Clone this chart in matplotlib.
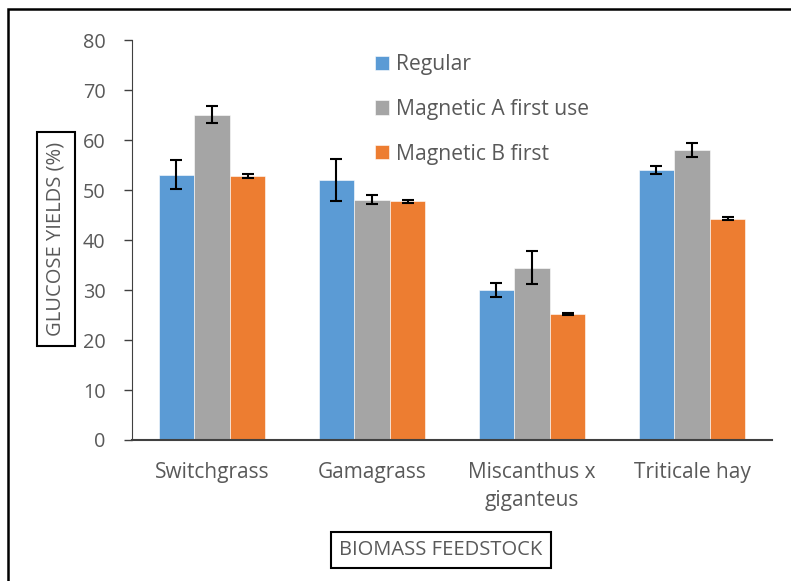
import matplotlib.pyplot as plt
import numpy as np
from matplotlib.patches import Rectangle

# ---------------------------------------------------------------------------
# DATA
# ---------------------------------------------------------------------------
feedstocks = ["Switchgrass", "Gamagrass", "Miscanthus x\ngiganteus", "Triticale hay"]
series = ["Regular", "Magnetic A first use", "Magnetic B first"]
regular = [53.1, 52.0, 30.1, 54.1]
regular_err = [2.9, 4.2, 1.4, 0.8]
magnetic_a = [65.1, 48.1, 34.5, 58.1]
magnetic_a_err = [1.7, 0.9, 3.3, 1.4]
magnetic_b = [52.9, 47.8, 25.2, 44.3]
magnetic_b_err = [0.4, 0.3, 0.15, 0.35]
colors = ["#5B9BD5", "#A5A5A5", "#ED7D31"]
# ---------------------------------------------------------------------------

plt.rcParams['font.family'] = ['Open Sans', 'DejaVu Sans']
txt = "#595959"

fig = plt.figure(figsize=(7.91, 5.81), dpi=100)
ax = fig.add_axes([0.1669, 0.2427, 0.976 - 0.1669, 0.931 - 0.2427])

x = np.arange(len(feedstocks))
w = 0.222
values = [regular, magnetic_a, magnetic_b]
errors = [regular_err, magnetic_a_err, magnetic_b_err]
for i in range(3):
	ax.bar(x + (i - 1) * w, values[i], w, color=colors[i], label=series[i],
		edgecolor="white", linewidth=0.4,
		yerr=errors[i], capsize=4.5,
		error_kw=dict(ecolor="black", elinewidth=1.5, capthick=1.5))

ax.set_xlim(-0.5, 3.5)
ax.set_ylim(0, 80)
ax.set_yticks(np.arange(0, 81, 10))
ax.set_xticks(x)
ax.set_xticklabels(feedstocks, fontsize=15, color=txt, linespacing=1.45)
ax.tick_params(axis='x', length=0, pad=16)
ax.tick_params(axis='y', labelsize=14.3, labelcolor=txt, length=6, width=1, color="#404040", pad=13)
for s in ["top", "right"]:
	ax.spines[s].set_visible(False)
ax.spines["left"].set_color("#404040")
ax.spines["bottom"].set_color("#404040")
ax.spines["bottom"].set_linewidth(1.5)

leg = ax.legend(loc="upper left", bbox_to_anchor=(0.35, 1.012), frameon=False,
	fontsize=15.2, handlelength=0.65, handleheight=0.65, handletextpad=0.35,
	labelspacing=1.12, labelcolor=txt)

# axis titles in boxes
fig.text(56 / 791, 1 - 239 / 581, "GLUCOSE YIELDS (%)", rotation=90, ha="center", va="center",
	fontsize=14.5, color=txt,
	bbox=dict(boxstyle="square,pad=0.47", fc="white", ec="black", lw=1.5))
fig.text(441 / 791, 1 - 550 / 581, "BIOMASS FEEDSTOCK", ha="center", va="center",
	fontsize=14.5, color=txt,
	bbox=dict(boxstyle="square,pad=0.4", fc="white", ec="black", lw=1.5))

# outer frame (cut off at right and bottom)
fig.patches.append(Rectangle((8 / 791, -0.05), 1.1, 1 - 9 / 581 + 0.05, transform=fig.transFigure,
	fill=False, ec="black", lw=1.8))

fig.savefig("out.png", dpi=100)
